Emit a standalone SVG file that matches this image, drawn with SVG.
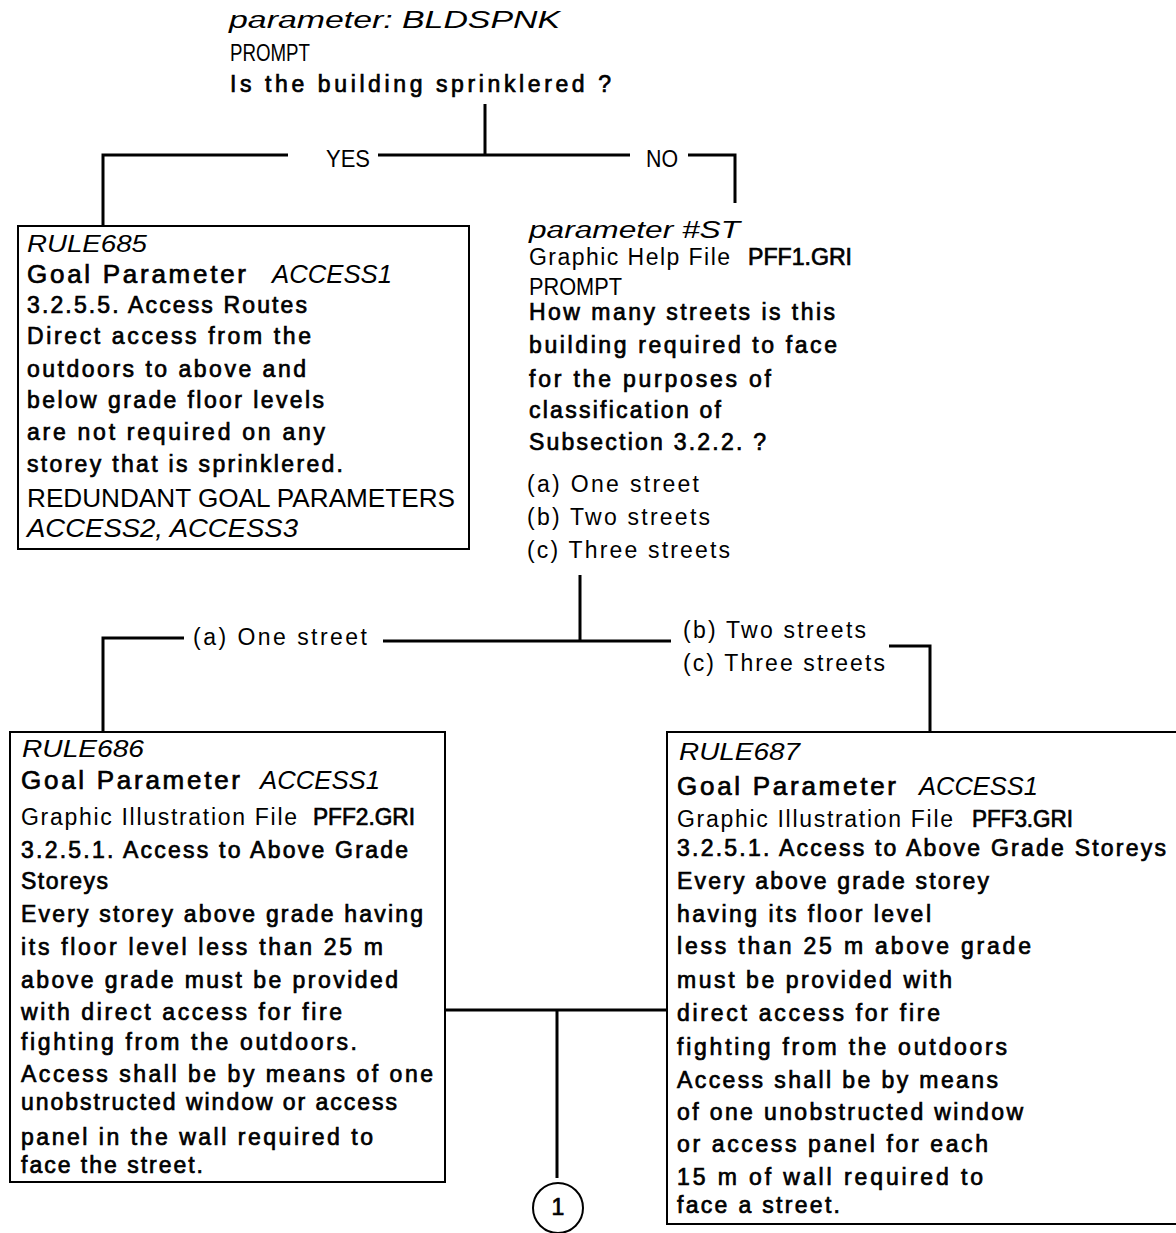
<svg xmlns="http://www.w3.org/2000/svg" width="1176" height="1233" viewBox="0 0 1176 1233">
<style>
text{font-family:"Liberation Sans",Arial,sans-serif;fill:#000;font-size:23px}
.b{stroke:#000;stroke-width:0.7}
.i{font-style:italic}
.h{font-size:26px}
.box{fill:none;stroke:#000;stroke-width:2}
.con{fill:none;stroke:#000;stroke-width:3}
</style>
<rect width="1176" height="1233" fill="#fff"/>

<g id="connectors">
<path class="con" d="M485,104 V155 M103,226 V155 H288 M378,155 H630 M688,155 H735 V203"/>
<path class="con" d="M580,575 V640 M103,732 V638 H184 M383,641 H671 M889,646 H930 V732"/>
<path class="con" d="M445,1010 H667 M557,1010 V1178"/>
<text x="326" y="167" textLength="44" lengthAdjust="spacingAndGlyphs">YES</text>
<text x="646" y="167" textLength="32" lengthAdjust="spacingAndGlyphs">NO</text>
<text x="193" y="645" textLength="174" lengthAdjust="spacing">(a) One street</text>
<text x="683" y="638" textLength="183" lengthAdjust="spacing">(b) Two streets</text>
<text x="683" y="671" textLength="202" lengthAdjust="spacing">(c) Three streets</text>
</g>

<g id="node-bldspnk">
<text class="i" x="229" y="28" font-size="27" textLength="331" lengthAdjust="spacingAndGlyphs">parameter: BLDSPNK</text>
<text x="230" y="61" font-size="20" textLength="80" lengthAdjust="spacingAndGlyphs">PROMPT</text>
<text class="b" x="230" y="92" textLength="381" lengthAdjust="spacing">Is the building sprinklered ?</text>
</g>

<g id="node-rule685">
<rect class="box" x="18" y="226" width="451" height="323"/>
<text class="i" x="27" y="252" font-size="25" textLength="120" lengthAdjust="spacingAndGlyphs">RULE685</text>
<text class="b h" x="27" y="283" textLength="219" lengthAdjust="spacing">Goal Parameter</text>
<text class="i h" x="272" y="283" textLength="120" lengthAdjust="spacingAndGlyphs">ACCESS1</text>
<text class="b" x="27" y="313" textLength="280" lengthAdjust="spacing">3.2.5.5. Access Routes</text>
<text class="b" x="27" y="344" textLength="284" lengthAdjust="spacing">Direct access from the</text>
<text class="b" x="27" y="377" textLength="279" lengthAdjust="spacing">outdoors to above and</text>
<text class="b" x="27" y="408" textLength="297" lengthAdjust="spacing">below grade floor levels</text>
<text class="b" x="27" y="440" textLength="298" lengthAdjust="spacing">are not required on any</text>
<text class="b" x="27" y="472" textLength="316" lengthAdjust="spacing">storey that is sprinklered.</text>
<text class="h" x="27" y="507" textLength="428" lengthAdjust="spacingAndGlyphs">REDUNDANT GOAL PARAMETERS</text>
<text class="i h" x="27" y="537" textLength="271" lengthAdjust="spacingAndGlyphs">ACCESS2, ACCESS3</text>
</g>

<g id="node-st">
<text class="i" x="529" y="238" font-size="27" textLength="211" lengthAdjust="spacingAndGlyphs">parameter #ST</text>
<text x="529" y="265" textLength="201" lengthAdjust="spacing">Graphic Help File</text>
<text class="b" x="748" y="265" textLength="104" lengthAdjust="spacingAndGlyphs">PFF1.GRI</text>
<text x="529" y="295" font-size="22" textLength="93" lengthAdjust="spacingAndGlyphs">PROMPT</text>
<text class="b" x="529" y="320" textLength="306" lengthAdjust="spacing">How many streets is this</text>
<text class="b" x="529" y="353" textLength="308" lengthAdjust="spacing">building required to face</text>
<text class="b" x="529" y="387" textLength="242" lengthAdjust="spacing">for the purposes of</text>
<text class="b" x="529" y="418" textLength="192" lengthAdjust="spacing">classification of</text>
<text class="b" x="529" y="450" textLength="237" lengthAdjust="spacing">Subsection 3.2.2. ?</text>
<text x="527" y="492" textLength="172" lengthAdjust="spacing">(a) One street</text>
<text x="527" y="525" textLength="183" lengthAdjust="spacing">(b) Two streets</text>
<text x="527" y="558" textLength="203" lengthAdjust="spacing">(c) Three streets</text>
</g>

<g id="node-rule686">
<rect class="box" x="10" y="732" width="435" height="450"/>
<text class="i" x="22" y="757" font-size="25" textLength="122" lengthAdjust="spacingAndGlyphs">RULE686</text>
<text class="b h" x="21" y="789" textLength="219" lengthAdjust="spacing">Goal Parameter</text>
<text class="i h" x="260" y="789" textLength="120" lengthAdjust="spacingAndGlyphs">ACCESS1</text>
<text x="21" y="825" textLength="276" lengthAdjust="spacing">Graphic Illustration File</text>
<text class="b" x="313" y="825" textLength="102" lengthAdjust="spacingAndGlyphs">PFF2.GRI</text>
<text class="b" x="21" y="858" textLength="387" lengthAdjust="spacing">3.2.5.1. Access to Above Grade</text>
<text class="b" x="21" y="889" textLength="87" lengthAdjust="spacing">Storeys</text>
<text class="b" x="21" y="922" textLength="402" lengthAdjust="spacing">Every storey above grade having</text>
<text class="b" x="21" y="955" textLength="362" lengthAdjust="spacing">its floor level less than 25 m</text>
<text class="b" x="21" y="988" textLength="377" lengthAdjust="spacing">above grade must be provided</text>
<text class="b" x="21" y="1020" textLength="321" lengthAdjust="spacing">with direct access for fire</text>
<text class="b" x="21" y="1050" textLength="336" lengthAdjust="spacing">fighting from the outdoors.</text>
<text class="b" x="21" y="1082" textLength="412" lengthAdjust="spacing">Access shall be by means of one</text>
<text class="b" x="21" y="1110" textLength="376" lengthAdjust="spacing">unobstructed window or access</text>
<text class="b" x="21" y="1145" textLength="352" lengthAdjust="spacing">panel in the wall required to</text>
<text class="b" x="21" y="1173" textLength="182" lengthAdjust="spacing">face the street.</text>
</g>

<g id="node-rule687">
<rect class="box" x="667" y="732" width="520" height="492"/>
<text class="i" x="679" y="760" font-size="25" textLength="121" lengthAdjust="spacingAndGlyphs">RULE687</text>
<text class="b h" x="677" y="795" textLength="219" lengthAdjust="spacing">Goal Parameter</text>
<text class="i h" x="919" y="795" textLength="119" lengthAdjust="spacingAndGlyphs">ACCESS1</text>
<text x="677" y="827" textLength="276" lengthAdjust="spacing">Graphic Illustration File</text>
<text class="b" x="972" y="827" textLength="101" lengthAdjust="spacingAndGlyphs">PFF3.GRI</text>
<text class="b" x="677" y="856" textLength="489" lengthAdjust="spacing">3.2.5.1. Access to Above Grade Storeys</text>
<text class="b" x="677" y="889" textLength="312" lengthAdjust="spacing">Every above grade storey</text>
<text class="b" x="677" y="922" textLength="254" lengthAdjust="spacing">having its floor level</text>
<text class="b" x="677" y="954" textLength="354" lengthAdjust="spacing">less than 25 m above grade</text>
<text class="b" x="677" y="988" textLength="275" lengthAdjust="spacing">must be provided with</text>
<text class="b" x="677" y="1021" textLength="263" lengthAdjust="spacing">direct access for fire</text>
<text class="b" x="677" y="1055" textLength="330" lengthAdjust="spacing">fighting from the outdoors</text>
<text class="b" x="677" y="1088" textLength="321" lengthAdjust="spacing">Access shall be by means</text>
<text class="b" x="677" y="1120" textLength="346" lengthAdjust="spacing">of one unobstructed window</text>
<text class="b" x="677" y="1152" textLength="311" lengthAdjust="spacing">or access panel for each</text>
<text class="b" x="677" y="1185" textLength="306" lengthAdjust="spacing">15 m of wall required to</text>
<text class="b" x="677" y="1213" textLength="163" lengthAdjust="spacing">face a street.</text>
</g>

<g id="node-connector-1">
<circle cx="558" cy="1208" r="25" fill="#fff" stroke="#000" stroke-width="2"/>
<text class="b" x="558" y="1215" font-size="19" text-anchor="middle">1</text>
</g>
</svg>
